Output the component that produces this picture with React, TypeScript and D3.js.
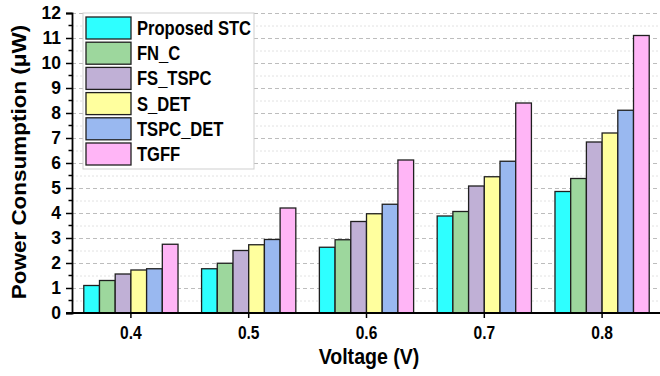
// Grouped bar chart — power consumption vs supply voltage for six flip-flop designs.
import { useEffect, useRef } from "react";
import * as d3 from "d3";

const voltages = ["0.4", "0.5", "0.6", "0.7", "0.8"];
const seriesNames = ["Proposed STC", "FN_C", "FS_TSPC", "S_DET", "TSPC_DET", "TGFF"];
const seriesColors = ["#2EFFFF", "#9DD79D", "#C0B0D6", "#FFFF9E", "#99B8F0", "#FFB5F6"];

// µW, one array per design, indexed by voltage
const proposedStc = [1.1, 1.77, 2.63, 3.88, 4.86];
const fnC = [1.3, 1.99, 2.93, 4.06, 5.38];
const fsTspc = [1.56, 2.5, 3.66, 5.08, 6.84];
const sDet = [1.72, 2.73, 3.97, 5.45, 7.2];
const tspcDet = [1.77, 2.94, 4.35, 6.07, 8.11];
const tgff = [2.75, 4.2, 6.12, 8.4, 11.1];
const seriesValues = [proposedStc, fnC, fsTspc, sDet, tspcDet, tgff];

const yTicks = d3.range(0, 13);
const yMinor = d3.range(0.5, 12, 1);

const FONT = "'Liberation Sans', Arial, sans-serif";

export default function App() {
  const ref = useRef<SVGSVGElement>(null);

  useEffect(() => {
    const svg = d3.select(ref.current!);
    svg.selectAll("*").remove();

    const W = 660;
    const H = 376;
    const left = 72;
    const right = 661;
    const top = 13;
    const bottom = 313;

    const x = d3.scaleBand<string>().domain(voltages).range([left, right]).paddingInner(0).paddingOuter(0);
    // six bars fill ~80% of each category band
    const xs = d3.scaleBand<string>().domain(seriesNames).range([0, x.bandwidth()]).paddingOuter(0.75).paddingInner(0);
    const y = d3.scaleLinear().domain([0, 12]).range([bottom, top]);

    svg.append("rect").attr("width", W).attr("height", H).attr("fill", "#fff");

    // minor grid (half units)
    svg.append("g")
      .selectAll("line")
      .data(yMinor)
      .join("line")
      .attr("x1", left)
      .attr("x2", right)
      .attr("y1", (d) => y(d) + 0.5)
      .attr("y2", (d) => y(d) + 0.5)
      .attr("stroke", "#e2e2e2")
      .attr("stroke-width", 1)
      .attr("stroke-dasharray", "2,2");

    // major grid
    svg.append("g")
      .selectAll("line")
      .data(yTicks.filter((d) => d > 0))
      .join("line")
      .attr("x1", left)
      .attr("x2", right)
      .attr("y1", (d) => y(d) + 0.5)
      .attr("y2", (d) => y(d) + 0.5)
      .attr("stroke", "#bdbdbd")
      .attr("stroke-width", 1)
      .attr("stroke-dasharray", "4,3");

    // bars
    const groups = svg.append("g")
      .selectAll("g")
      .data(voltages)
      .join("g")
      .attr("transform", (v) => `translate(${x(v)},0)`);

    groups
      .selectAll("rect")
      .data((v) => seriesNames.map((s, k) => ({ s, k, val: seriesValues[k][voltages.indexOf(v)] })))
      .join("rect")
      .attr("x", (d) => xs(d.s)!)
      .attr("y", (d) => y(d.val))
      .attr("width", xs.bandwidth())
      .attr("height", (d) => y(0) - y(d.val))
      .attr("fill", (d) => seriesColors[d.k])
      .attr("stroke", "#1f1f1f")
      .attr("stroke-width", 1.3);

    // y axis
    const gy = svg.append("g").attr("transform", `translate(${left},0)`);
    gy.call(d3.axisLeft(y).tickValues(yTicks).tickSize(6).tickPadding(5).tickFormat((d) => `${d}`));
    gy.append("g")
      .selectAll("line")
      .data(yMinor)
      .join("line")
      .attr("x1", -3.5)
      .attr("x2", 0)
      .attr("y1", (d) => y(d))
      .attr("y2", (d) => y(d))
      .attr("stroke", "#000")
      .attr("stroke-width", 1.5);
    gy.select(".domain").attr("stroke", "#000").attr("stroke-width", 1.8);
    gy.selectAll(".tick line").attr("stroke", "#000").attr("stroke-width", 1.5);
    gy.selectAll(".tick text")
      .attr("font-family", FONT)
      .attr("font-weight", "bold")
      .attr("font-size", "17.5px")
      .attr("fill", "#000");

    // x axis
    const gx = svg.append("g").attr("transform", `translate(0,${bottom})`);
    gx.call(d3.axisBottom(x).tickSize(5).tickSizeOuter(0));
    gx.select(".domain").attr("d", `M${left - 6},0H${right}`).attr("stroke", "#000").attr("stroke-width", 1.8);
    gx.selectAll(".tick line").attr("stroke", "#000").attr("stroke-width", 1.5);
    gx.selectAll(".tick text")
      .attr("y", 0)
      .attr("dy", 0)
      .attr("transform", "translate(0,26) scale(0.82,1)")
      .attr("font-family", FONT)
      .attr("font-weight", "bold")
      .attr("font-size", "19px")
      .attr("fill", "#000");

    // axis titles
    svg.append("text")
      .attr("transform", `translate(369,364) scale(0.87,1)`)
      .attr("text-anchor", "middle")
      .attr("font-family", FONT)
      .attr("font-weight", "bold")
      .attr("font-size", "22.5px")
      .text("Voltage (V)");

    svg.append("text")
      .attr("transform", `translate(26,162) rotate(-90) scale(1.07,1)`)
      .attr("text-anchor", "middle")
      .attr("font-family", FONT)
      .attr("font-weight", "bold")
      .attr("font-size", "21px")
      .text("Power Consumption (μW)");

    // legend
    const lg = svg.append("g").attr("transform", "translate(83,13)");
    lg.append("rect")
      .attr("width", 171)
      .attr("height", 156)
      .attr("fill", "#fff")
      .attr("stroke", "#cfcfcf")
      .attr("stroke-width", 1);
    const items = lg
      .selectAll("g.item")
      .data(seriesNames)
      .join("g")
      .attr("class", "item")
      .attr("transform", (_d, i) => `translate(3,${4 + i * 25.2})`);
    items
      .append("rect")
      .attr("width", 45)
      .attr("height", 22)
      .attr("fill", (_d, i) => seriesColors[i])
      .attr("stroke", "#1f1f1f")
      .attr("stroke-width", 1.3);
    items
      .append("text")
      .attr("transform", "translate(51,18) scale(0.85,1)")
      .attr("font-family", FONT)
      .attr("font-weight", "bold")
      .attr("font-size", "19.5px")
      .text((d) => d);
  }, []);

  return (
    <svg
      ref={ref}
      width={660}
      height={376}
      style={{ position: "absolute", left: 0, top: 0, display: "block" }}
    />
  );
}
